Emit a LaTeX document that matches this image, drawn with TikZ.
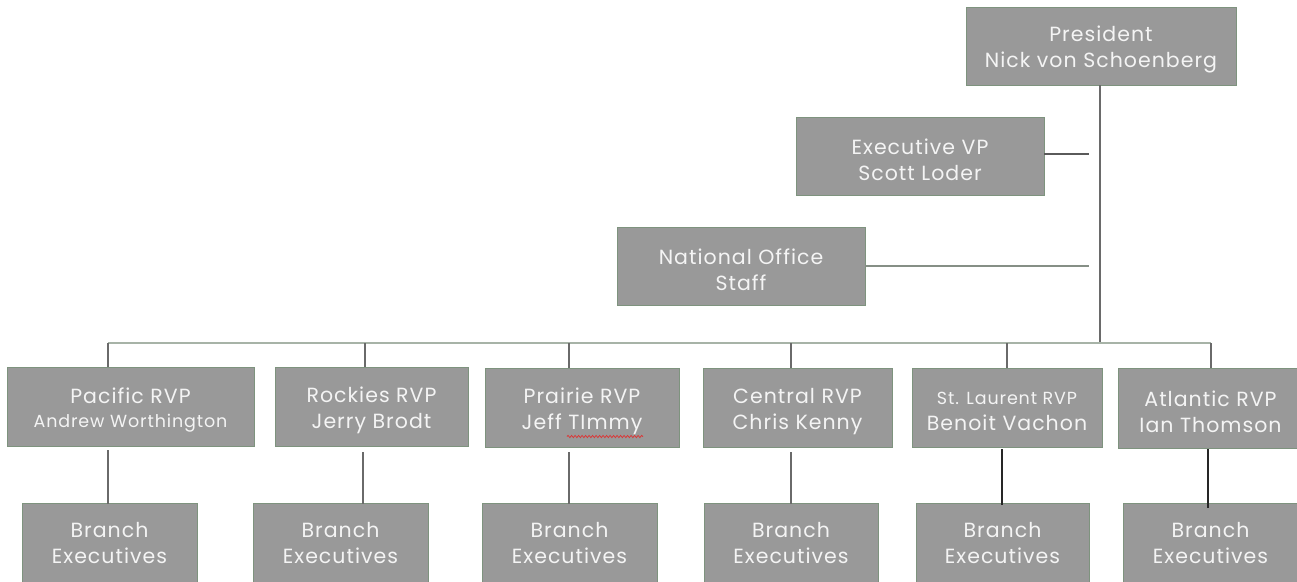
\documentclass[tikz,border=0pt]{standalone}
\usepackage{fontspec}
\setmainfont{Poppins}[LetterSpace=5]
\usetikzlibrary{decorations.pathmorphing}
\definecolor{boxfill}{HTML}{999999}
\definecolor{boxline}{HTML}{7E937E}
\definecolor{conn}{HTML}{6A6A6A}
\definecolor{busc}{HTML}{A7B3A7}
\definecolor{txt}{HTML}{F4F4F4}
\definecolor{squig}{HTML}{D83A3A}
\newcommand{\smalltxt}{\fontsize{17.5}{21}\selectfont}
\newcommand{\tp}{\rule{0pt}{23pt}}
\tikzset{
  orgbox/.style={draw=boxline, fill=boxfill, line width=0.9pt, inner sep=0pt,
    align=center, text=txt, font=\fontsize{20.5}{26.5}\selectfont},
  conline/.style={draw=conn, line width=1.3pt},
  busline/.style={draw=busc, line width=1.5pt}
}
\begin{document}
\begin{tikzpicture}[x=1pt,y=-1pt]
\useasboundingbox (0,0) rectangle (1297,581);
\clip (0,0) rectangle (1297,581);
% top nodes
\node[orgbox, minimum width=270pt, minimum height=78pt] (pres) at (1101,46) {\tp President\\Nick von Schoenberg};
\node[orgbox, minimum width=248pt, minimum height=78pt] (evp) at (920,156) {\tp Executive VP\\Scott Loder};
\node[orgbox, minimum width=248pt, minimum height=78pt] (nat) at (741,266) {\tp National Office\\Staff};
% RVP nodes
\node[orgbox, minimum width=247pt, minimum height=79pt] (pac) at (130.5,406.5) {\tp Pacific RVP\\[-3pt]{\smalltxt Andrew Worthington}};
\node[orgbox, minimum width=193pt, minimum height=79pt] (roc) at (371.5,406.5) {\tp Rockies RVP\\Jerry Brodt};
\node[orgbox, minimum width=194pt, minimum height=79pt] (pra) at (582,407.5) {\tp Prairie RVP\\Jeff TImmy};
\node[orgbox, minimum width=189pt, minimum height=79pt] (cen) at (797.5,407.5) {\tp Central RVP\\Chris Kenny};
\node[orgbox, minimum width=190pt, minimum height=79pt] (stl) at (1007,407.5) {\rule{0pt}{20pt}{\smalltxt St. Laurent RVP}\\Benoit Vachon};
\node[orgbox, minimum width=185pt, minimum height=80pt] (atl) at (1210.5,408) {\tp Atlantic RVP\\Ian Thomson};
% branch nodes
\node[orgbox, minimum width=175pt, minimum height=80pt] (pacb) at (109.5,543) {Branch\\Executives};
\node[orgbox, minimum width=175pt, minimum height=80pt] (rocb) at (340.5,543) {Branch\\Executives};
\node[orgbox, minimum width=175pt, minimum height=80pt] (prab) at (569.5,543) {Branch\\Executives};
\node[orgbox, minimum width=174pt, minimum height=80pt] (cenb) at (791,543) {Branch\\Executives};
\node[orgbox, minimum width=173pt, minimum height=80pt] (stlb) at (1002.5,543) {Branch\\Executives};
\node[orgbox, minimum width=175pt, minimum height=80pt] (atlb) at (1210.5,543) {Branch\\Executives};
% spelling squiggle
\draw[squig, line width=0.8pt, decorate, decoration={snake, amplitude=1.1pt, segment length=3.5pt}] (567,436.5) -- (643,436.5);
% coordinates
\coordinate (busT) at (1100,343);
\coordinate (evpE) at (1089,154);
\coordinate (natE) at (1089,266);
\coordinate (busL) at (108,343);
\coordinate (busR) at (1211,343);
\coordinate (t1) at (108,343);
\coordinate (t2) at (365,343);
\coordinate (t3) at (569,343);
\coordinate (t4) at (791,343);
\coordinate (t5) at (1007,343);
\coordinate (t6) at (1211,343);
\coordinate (d1) at (108,450);
\coordinate (d2) at (363,452);
\coordinate (d3) at (569,452);
\coordinate (d4) at (791,452);
\coordinate (d5) at (1002,449);
\coordinate (d6) at (1208,449);
% connectors
\draw[conline] (pres.south -| busT) -- (busT);
\draw[conline, draw=conn!85!black] (evp.east |- evpE) -- (evpE);
\draw[busline, draw=busc!80!black] (nat.east |- natE) -- (natE);
\draw[busline] (busL) -- (busR);
\draw[conline] (t1) -- (t1 |- pac.north);
\draw[conline] (t2) -- (t2 |- roc.north);
\draw[conline] (t3) -- (t3 |- pra.north);
\draw[conline] (t4) -- (t4 |- cen.north);
\draw[conline] (t5) -- (t5 |- stl.north);
\draw[conline] (t6) -- (t6 |- atl.north);
\draw[conline] (d1) -- ([yshift=-1pt]d1 |- pacb.north);
\draw[conline] (d2) -- ([yshift=-1pt]d2 |- rocb.north);
\draw[conline] (d3) -- ([yshift=-1pt]d3 |- prab.north);
\draw[conline] (d4) -- ([yshift=-1pt]d4 |- cenb.north);
\draw[conline, draw=black!85] (d5) -- ([yshift=-2pt]d5 |- stlb.north);
\draw[conline, draw=black!85] (d6) -- ([yshift=-5pt]d6 |- atlb.north);
\end{tikzpicture}
\end{document}
